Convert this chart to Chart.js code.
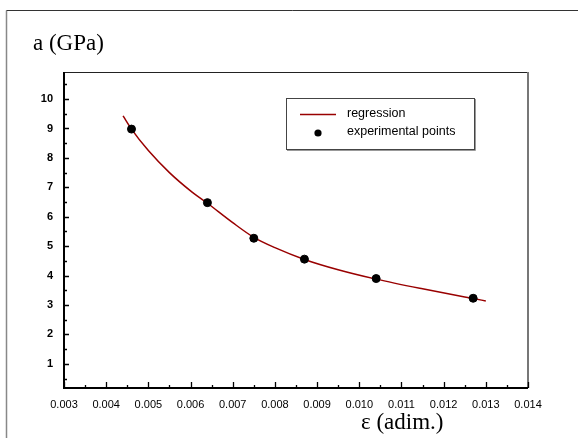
<!DOCTYPE html>
<html>
<head>
<meta charset="utf-8">
<script src="https://cdn.jsdelivr.net/npm/chart.js@4/dist/chart.umd.min.js"></script>
<style>
  html, body { margin: 0; padding: 0; background: #fff; }
  canvas { display: block; }
</style>
</head>
<body>
<canvas id="chart" width="578" height="438"></canvas>
<script>
// experimental points
const strainPoints = [0.0046, 0.0064, 0.0075, 0.0087, 0.0104, 0.0127];
const modulusPoints = [8.98, 6.48, 5.27, 4.56, 3.90, 3.23];

// regression curve, sampled by eye along the red line
const strainCurve = [0.0044, 0.0046, 0.0050, 0.0055, 0.0060, 0.0064, 0.0070, 0.0075, 0.0080, 0.0087, 0.0095, 0.0104, 0.0115, 0.0127, 0.0130];
const modulusCurve = [9.43, 8.98, 8.25, 7.50, 6.88, 6.46, 5.80, 5.30, 4.95, 4.55, 4.20, 3.88, 3.55, 3.22, 3.14];

const xTicks = [0.003, 0.004, 0.005, 0.006, 0.007, 0.008, 0.009, 0.010, 0.011, 0.012, 0.013, 0.014];
const yTicks = [1, 2, 3, 4, 5, 6, 7, 8, 9, 10];

const legendLabels = ['regression', 'experimental points'];
const titleY = 'a (GPa)';
const titleX = 'ε (adim.)';

const curveColor = '#990000';

const toXY = (xs, ys) => xs.map((x, i) => ({ x, y: ys[i] }));

// frame, axes, inward ticks, titles and boxed legend
const decorations = {
  id: 'decorations',
  beforeDraw(chart) {
    const ctx = chart.ctx;
    ctx.save();
    ctx.fillStyle = '#fff';
    ctx.fillRect(0, 0, chart.width, chart.height);
    // outer frame
    ctx.strokeStyle = '#888';
    ctx.lineWidth = 1.5;
    ctx.beginPath();
    ctx.moveTo(6.5, 440);
    ctx.lineTo(6.5, 10.5);
    ctx.stroke();
    ctx.strokeStyle = '#333';
    ctx.lineWidth = 1;
    ctx.beginPath();
    ctx.moveTo(6.5, 10.5);
    ctx.lineTo(580, 10.5);
    ctx.stroke();
    ctx.restore();
  },
  afterDraw(chart) {
    const ctx = chart.ctx;
    const { left, right, top, bottom } = chart.chartArea;
    const xs = chart.scales.x;
    const ys = chart.scales.y;
    ctx.save();

    // plot box: top dark thin, right gray
    ctx.strokeStyle = '#222';
    ctx.lineWidth = 1;
    ctx.beginPath();
    ctx.moveTo(left, top + 0.5);
    ctx.lineTo(right, top + 0.5);
    ctx.stroke();
    ctx.strokeStyle = '#777';
    ctx.lineWidth = 2;
    ctx.beginPath();
    ctx.moveTo(right, top);
    ctx.lineTo(right, bottom);
    ctx.stroke();

    // left and bottom axes
    ctx.strokeStyle = '#000';
    ctx.lineWidth = 2;
    ctx.beginPath();
    ctx.moveTo(left, top);
    ctx.lineTo(left, bottom);
    ctx.lineTo(right, bottom);
    ctx.stroke();

    // inward ticks
    ctx.lineWidth = 1.3;
    ctx.beginPath();
    xTicks.forEach((v, i) => {
      const px = Math.round(xs.getPixelForValue(v)) + 0.5;
      ctx.moveTo(px, bottom);
      ctx.lineTo(px, bottom - 6);
      if (i < xTicks.length - 1) {
        const mx = Math.round(xs.getPixelForValue(v + 0.0005)) + 0.5;
        ctx.moveTo(mx, bottom);
        ctx.lineTo(mx, bottom - 3);
      }
    });
    for (let v = 0.5; v < ys.max; v += 0.5) {
      const py = Math.round(ys.getPixelForValue(v)) + 0.5;
      const len = Number.isInteger(v) ? 5 : 3;
      ctx.moveTo(left, py);
      ctx.lineTo(left + len, py);
    }
    ctx.stroke();

    // titles
    ctx.fillStyle = '#000';
    ctx.font = '23px "Liberation Serif", "Times New Roman", serif';
    ctx.textBaseline = 'alphabetic';
    ctx.textAlign = 'left';
    ctx.fillText(titleY, 33, 50);
    ctx.fillText(titleX, 361, 429);

    // legend box
    const bx = 286, by = 98, bw = 188, bh = 51;
    ctx.strokeStyle = '#444';
    ctx.lineWidth = 1;
    ctx.strokeRect(bx + 0.5, by + 0.5, bw, bh);
    ctx.strokeStyle = '#999';
    ctx.beginPath();
    ctx.moveTo(bx + bw + 1.5, by + 1);
    ctx.lineTo(bx + bw + 1.5, by + bh + 1.5);
    ctx.lineTo(bx + 1, by + bh + 1.5);
    ctx.stroke();

    ctx.strokeStyle = curveColor;
    ctx.lineWidth = 1.5;
    ctx.beginPath();
    ctx.moveTo(300, 114.5);
    ctx.lineTo(336, 114.5);
    ctx.stroke();
    ctx.fillStyle = '#000';
    ctx.beginPath();
    ctx.arc(318, 133, 3.6, 0, Math.PI * 2);
    ctx.fill();

    ctx.font = '12.5px "Liberation Sans", Arial, sans-serif';
    ctx.textBaseline = 'middle';
    ctx.fillText(legendLabels[0], 347, 114);
    ctx.fillText(legendLabels[1], 347, 132);
    ctx.restore();
  }
};

new Chart(document.getElementById('chart'), {
  type: 'scatter',
  data: {
    datasets: [
      {
        label: legendLabels[0],
        data: toXY(strainCurve, modulusCurve),
        showLine: true,
        borderColor: curveColor,
        borderWidth: 1.5,
        pointRadius: 0,
        cubicInterpolationMode: 'monotone',
        order: 2
      },
      {
        label: legendLabels[1],
        data: toXY(strainPoints, modulusPoints),
        backgroundColor: '#000',
        borderColor: '#000',
        pointRadius: 4,
        order: 1
      }
    ]
  },
  options: {
    responsive: false,
    animation: false,
    layout: { padding: { left: 0, top: 72, right: 50, bottom: 0 } },
    plugins: {
      legend: { display: false },
      tooltip: { enabled: false }
    },
    scales: {
      x: {
        type: 'linear',
        min: 0.003,
        max: 0.014,
        border: { display: false },
        grid: { display: false },
        afterFit: s => { s.height = 50; },
        afterBuildTicks: s => { s.ticks = xTicks.map(v => ({ value: v })); },
        ticks: {
          padding: 2,
          color: '#000',
          font: { family: '"Liberation Sans", Arial, sans-serif', size: 11 },
          callback: v => v.toFixed(3)
        }
      },
      y: {
        type: 'linear',
        min: 0.18,
        max: 10.92,
        border: { display: false },
        grid: { display: false },
        afterFit: s => { s.width = 64; },
        afterBuildTicks: s => { s.ticks = yTicks.map(v => ({ value: v })); },
        ticks: {
          padding: 3,
          color: '#000',
          font: { family: '"Liberation Sans", Arial, sans-serif', size: 11, weight: 'bold' },
          callback: v => String(v)
        }
      }
    }
  },
  plugins: [decorations]
});
</script>
</body>
</html>
